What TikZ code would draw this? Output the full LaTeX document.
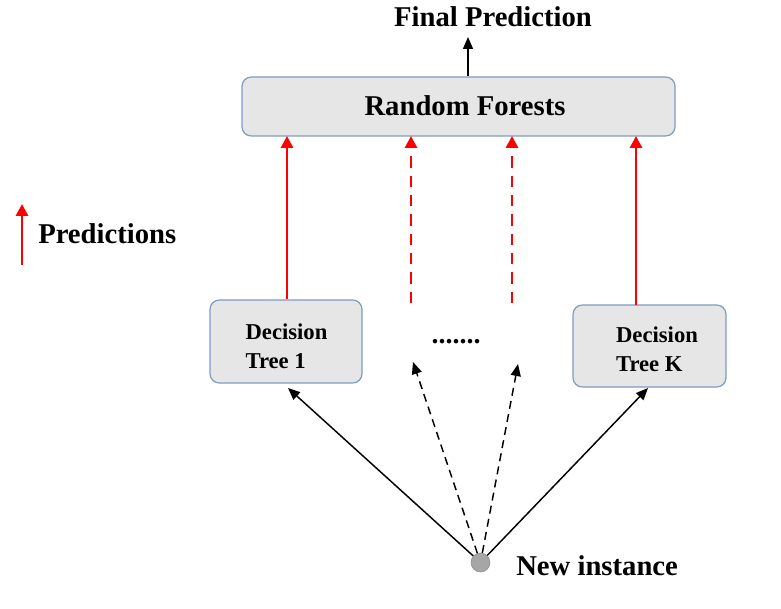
\documentclass[tikz,border=0pt]{standalone}
\usepackage{fontspec}
\setmainfont{Liberation Serif}
\usetikzlibrary{arrows.meta}
\definecolor{boxfill}{HTML}{E7E6E6}
\definecolor{boxedge}{HTML}{7E9CC0}
\definecolor{dotfill}{HTML}{A6A6A6}
\begin{document}
\begin{tikzpicture}[x=0.75pt,y=-0.75pt,
  box/.style={draw=boxedge,fill=boxfill,line width=0.9pt,rounded corners=7pt,inner sep=0pt},
  big/.style={font=\fontsize{21.5}{26}\selectfont\bfseries},
  small/.style={font=\fontsize{17}{21.75}\selectfont\bfseries,align=left,inner sep=0pt},
  vote/.style={red,line width=2.2pt,-{Triangle[length=9pt,width=9pt]}},
  votedash/.style={vote,dash pattern=on 8.5pt off 6pt},
  feed/.style={black,line width=1.1pt,-{Triangle[length=9pt,width=7.5pt]}},
  feeddash/.style={feed,dash pattern=on 6pt off 4pt}]
\useasboundingbox (0,0) rectangle (781,609);

% aggregation box and final output
\node[box,minimum width=433*0.75pt,minimum height=59*0.75pt] (rf) at (458.5,106.5) {};
\node[big] (rftext) at (465,106) {Random Forests};
\node[big,anchor=base] (final) at (493,27) {Final Prediction};
\coordinate (finaltip) at (468,37);
\draw[feed] (rf.north -| finaltip) -- (finaltip);

% individual trees
\node[box,minimum width=152*0.75pt,minimum height=83*0.75pt] (t1) at (286,341.5) {};
\node[small] (t1text) at (286.5,346) {Decision\\Tree 1};
\node[box,minimum width=153*0.75pt,minimum height=82*0.75pt] (tK) at (649.5,346) {};
\node[small] (tKtext) at (657,349.5) {Decision\\Tree K};
\node[font=\fontsize{21}{24}\selectfont\bfseries,inner sep=0pt,anchor=base] (dots) at (456,344) {.......};

% predictions passed up to the forest
\coordinate (p1) at (287,136);
\coordinate (d1s) at (411,303);
\coordinate (d1e) at (411,136);
\coordinate (d2s) at (512,303);
\coordinate (d2e) at (512,136);
\coordinate (pKs) at (636,305);
\coordinate (pKe) at (636,136);
\draw[vote] (t1.north -| p1) -- (p1);
\draw[votedash] (d1s) -- (d1e);
\draw[votedash] (d2s) -- (d2e);
\draw[vote] (pKs) -- (pKe);

% new instance sent to every tree
\node[circle,fill=dotfill,draw=dotfill!85!black,line width=0.4pt,minimum size=19*0.75pt,inner sep=0pt] (ni) at (480.5,562.5) {};
\node[big,anchor=west,inner sep=0pt] (nitext) at (516,566) {New instance};
\coordinate (a1) at (288,388);
\coordinate (aK) at (648,388);
\coordinate (b1) at (413,362);
\coordinate (b2) at (518,364);
\draw[feed] (ni) -- (a1);
\draw[feed] (ni) -- (aK);
\draw[feeddash] (ni) -- (b1);
\draw[feeddash] (ni) -- (b2);

% legend
\coordinate (lgs) at (22,265);
\coordinate (lge) at (22,204);
\draw[vote] (lgs) -- (lge);
\node[big,anchor=west,inner sep=0pt] (lgtext) at (38,234) {Predictions};
\end{tikzpicture}
\end{document}
